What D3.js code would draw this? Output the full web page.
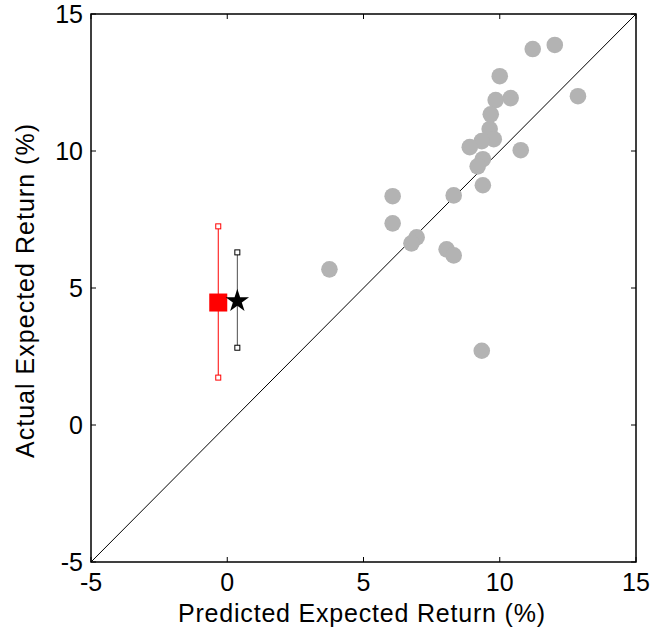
<!DOCTYPE html>
<html>
<head>
<meta charset="utf-8">
<script src="https://cdn.jsdelivr.net/npm/d3@7"></script>
<style>
  body { margin: 0; background: #fff; }
  text { font-family: "Liberation Sans", Arial, sans-serif; }
</style>
</head>
<body>
<svg id="chart"></svg>
<script>
// scatter points: predicted vs actual expected return (%)
const predicted = [12.02, 11.21, 10.0, 10.40, 9.85, 12.87, 9.67, 9.63, 9.78, 9.34, 8.90, 10.77,
                   9.38, 9.19, 9.38, 8.31, 6.07, 6.07, 6.95, 6.76, 8.05, 8.31, 3.75, 9.34];
const actual    = [13.87, 13.72, 12.73, 11.93, 11.86, 12.0, 11.34, 10.80, 10.43, 10.36, 10.14, 10.03,
                   9.70, 9.44, 8.75, 8.38, 8.35, 7.36, 6.85, 6.63, 6.41, 6.19, 5.68, 2.71];

// the two summary markers with their ranges
const summaryNames = ["red", "star"];
const summaryX    = [-0.33, 0.37];
const summaryY    = [4.47, 4.56];
const summaryLow  = [1.73, 2.82];
const summaryHigh = [7.25, 6.30];

const ticks = [-5, 0, 5, 10, 15];

const W = 655, H = 637;
const mLeft = 91, mTop = 14, mRight = 636, mBottom = 562;

const svg = d3.select('#chart').attr('width', W).attr('height', H);

const x = d3.scaleLinear().domain([-5, 15]).range([mLeft, mRight]);
const y = d3.scaleLinear().domain([-5, 15]).range([mBottom, mTop]);

// diagonal
svg.append('line')
  .attr('x1', x(-5)).attr('y1', y(-5))
  .attr('x2', x(15)).attr('y2', y(15))
  .attr('stroke', '#000').attr('stroke-width', 1);

// gray points
svg.append('g')
  .selectAll('circle')
  .data(d3.zip(predicted, actual))
  .join('circle')
    .attr('cx', d => x(d[0]))
    .attr('cy', d => y(d[1]))
    .attr('r', 8.3)
    .attr('fill', '#b3b3b3');

// error bars
const cols = ['#ff0000', '#000000'];
summaryNames.forEach((n, i) => {
  const g = svg.append('g');
  g.append('line')
    .attr('x1', x(summaryX[i])).attr('x2', x(summaryX[i]))
    .attr('y1', y(summaryLow[i])).attr('y2', y(summaryHigh[i]))
    .attr('stroke', cols[i]).attr('stroke-width', 1)
    .attr('stroke-opacity', i == 1 ? 0.7 : 1);
  [summaryLow[i], summaryHigh[i]].forEach(v => {
    g.append('rect')
      .attr('x', x(summaryX[i]) - 2.5).attr('y', y(v) - 2.5)
      .attr('width', 5).attr('height', 5)
      .attr('fill', 'white').attr('stroke', cols[i]).attr('stroke-width', 1);
  });
});

// red square
svg.append('rect')
  .attr('x', x(summaryX[0]) - 9).attr('y', y(summaryY[0]) - 9)
  .attr('width', 18).attr('height', 18)
  .attr('fill', '#ff0000');

// black star
svg.append('path')
  .attr('d', d3.symbol().type(d3.symbolStar).size(170)())
  .attr('transform', `translate(${x(summaryX[1])},${y(summaryY[1]) + 1})`)
  .attr('fill', '#000');

// box
svg.append('rect')
  .attr('x', mLeft).attr('y', mTop)
  .attr('width', mRight - mLeft).attr('height', mBottom - mTop)
  .attr('fill', 'none').attr('stroke', '#000').attr('stroke-width', 1.5);

// ticks, inward on all sides
const tl = 5;
const tg = svg.append('g').attr('stroke', '#000').attr('stroke-width', 1);
ticks.forEach(t => {
  tg.append('line').attr('x1', x(t)).attr('x2', x(t)).attr('y1', mBottom).attr('y2', mBottom - tl);
  tg.append('line').attr('x1', x(t)).attr('x2', x(t)).attr('y1', mTop).attr('y2', mTop + tl);
  tg.append('line').attr('y1', y(t)).attr('y2', y(t)).attr('x1', mLeft).attr('x2', mLeft + tl);
  tg.append('line').attr('y1', y(t)).attr('y2', y(t)).attr('x1', mRight).attr('x2', mRight - tl);
});

// tick labels
svg.append('g').selectAll('text')
  .data(ticks).join('text')
    .attr('x', d => x(d)).attr('y', mBottom + 29)
    .attr('text-anchor', 'middle')
    .style('font-size', '25px')
    .text(d => d);

svg.append('g').selectAll('text')
  .data(ticks).join('text')
    .attr('x', mLeft - 8).attr('y', d => y(d) + 9)
    .attr('text-anchor', 'end')
    .style('font-size', '25px')
    .text(d => d);

// axis titles
svg.append('text')
  .attr('x', 178).attr('y', 622)
  .attr('textLength', 367).attr('lengthAdjust', 'spacing')
  .style('font-size', '25px')
  .text('Predicted Expected Return (%)');

svg.append('text')
  .attr('transform', `translate(34,458) rotate(-90)`)
  .attr('textLength', 334).attr('lengthAdjust', 'spacing')
  .style('font-size', '25px')
  .text('Actual Expected Return (%)');
</script>
</body>
</html>
